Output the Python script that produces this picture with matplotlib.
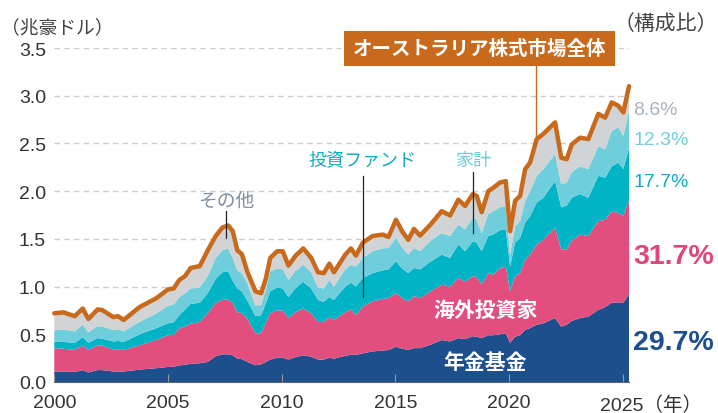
import matplotlib.pyplot as plt
from matplotlib.patches import Rectangle
import numpy as np

# 四半期ごとの保有額（兆豪ドル）をグラフから読み取り
years = [2000.0, 2000.4, 2000.9, 2001.25, 2001.5, 2001.9, 2002.1, 2002.6, 2002.8, 2003.05,
         2003.75, 2004.5, 2005.0, 2005.25, 2005.5, 2005.75, 2006.0, 2006.4, 2006.75, 2007.1,
         2007.4, 2007.65, 2007.85, 2008.05, 2008.25, 2008.5, 2008.85, 2009.1, 2009.3, 2009.5,
         2009.8, 2010.05, 2010.3, 2010.6, 2010.95, 2011.3, 2011.6, 2011.85, 2012.1, 2012.3,
         2012.8, 2013.05, 2013.27, 2013.57, 2014.0, 2014.45, 2014.7, 2015.03, 2015.3, 2015.57,
         2015.82, 2016.09, 2016.55, 2017.04, 2017.41, 2017.77, 2018.07, 2018.41, 2018.58, 2018.8,
         2019.09, 2019.31, 2019.6, 2019.86, 2020.05, 2020.27, 2020.49, 2020.71, 2020.93, 2021.22,
         2021.51, 2022.03, 2022.3, 2022.54, 2022.76, 2023.13, 2023.49, 2023.93, 2024.23, 2024.52,
         2024.81, 2025.03, 2025.28]

pension = [0.11, 0.11, 0.105, 0.125, 0.10, 0.125, 0.125, 0.11, 0.11, 0.11,
           0.13, 0.145, 0.158, 0.16, 0.175, 0.18, 0.19, 0.197, 0.21, 0.27,
           0.29, 0.29, 0.28, 0.245, 0.24, 0.21, 0.175, 0.186, 0.21, 0.235,
           0.255, 0.255, 0.235, 0.26, 0.28, 0.265, 0.235, 0.235, 0.255, 0.245,
           0.275, 0.285, 0.285, 0.30, 0.32, 0.33, 0.335, 0.37, 0.35, 0.335,
           0.355, 0.355, 0.39, 0.44, 0.425, 0.46, 0.45, 0.48, 0.475, 0.46,
           0.49, 0.49, 0.50, 0.51, 0.41, 0.475, 0.49, 0.545, 0.565, 0.60,
           0.615, 0.67, 0.58, 0.60, 0.64, 0.67, 0.685, 0.755, 0.785, 0.83,
           0.835, 0.83, 0.92]

foreign = [0.24, 0.24, 0.23, 0.255, 0.235, 0.26, 0.255, 0.23, 0.235, 0.225,
           0.255, 0.295, 0.332, 0.335, 0.385, 0.40, 0.42, 0.433, 0.51, 0.56,
           0.57, 0.575, 0.55, 0.485, 0.48, 0.45, 0.335, 0.325, 0.41, 0.485,
           0.495, 0.495, 0.435, 0.47, 0.49, 0.455, 0.395, 0.395, 0.425, 0.405,
           0.455, 0.475, 0.415, 0.49, 0.525, 0.54, 0.545, 0.56, 0.53, 0.51,
           0.545, 0.525, 0.56, 0.58, 0.575, 0.63, 0.60, 0.63, 0.625, 0.56,
           0.65, 0.635, 0.69, 0.70, 0.54, 0.635, 0.65, 0.735, 0.77, 0.84,
           0.875, 0.945, 0.81, 0.79, 0.84, 0.875, 0.845, 0.93, 0.915, 0.96,
           0.935, 0.91, 0.98]

funds = [0.07, 0.07, 0.075, 0.09, 0.075, 0.075, 0.075, 0.085, 0.085, 0.085,
         0.115, 0.125, 0.125, 0.13, 0.14, 0.18, 0.21, 0.20, 0.21, 0.25,
         0.29, 0.295, 0.23, 0.25, 0.23, 0.19, 0.18, 0.19, 0.20, 0.23,
         0.24, 0.23, 0.22, 0.25, 0.28, 0.26, 0.23, 0.21, 0.21, 0.21,
         0.27, 0.28, 0.30, 0.30, 0.295, 0.30, 0.30, 0.335, 0.31, 0.295,
         0.295, 0.30, 0.31, 0.315, 0.30, 0.35, 0.32, 0.365, 0.36, 0.35,
         0.39, 0.42, 0.40, 0.39, 0.26, 0.35, 0.37, 0.39, 0.405, 0.44,
         0.44, 0.49, 0.44, 0.46, 0.45, 0.425, 0.40, 0.475, 0.44, 0.47,
         0.53, 0.49, 0.55]

households = [0.12, 0.13, 0.12, 0.13, 0.11, 0.125, 0.125, 0.12, 0.125, 0.11,
              0.13, 0.155, 0.185, 0.185, 0.19, 0.17, 0.16, 0.16, 0.18, 0.22,
              0.23, 0.24, 0.24, 0.19, 0.19, 0.18, 0.11, 0.11, 0.14, 0.21,
              0.20, 0.20, 0.18, 0.18, 0.18, 0.17, 0.13, 0.14, 0.18, 0.14,
              0.18, 0.19, 0.21, 0.21, 0.23, 0.23, 0.225, 0.245, 0.22, 0.195,
              0.21, 0.19, 0.22, 0.225, 0.23, 0.21, 0.23, 0.245, 0.24, 0.19,
              0.23, 0.245, 0.24, 0.245, 0.125, 0.17, 0.175, 0.225, 0.26, 0.28,
              0.30, 0.285, 0.24, 0.24, 0.27, 0.29, 0.30, 0.31, 0.30, 0.37,
              0.37, 0.35, 0.38]

other = [0.18, 0.18, 0.16, 0.17, 0.14, 0.175, 0.175, 0.135, 0.135, 0.12,
         0.155, 0.16, 0.17, 0.17, 0.18, 0.18, 0.215, 0.225, 0.27, 0.23,
         0.24, 0.24, 0.28, 0.21, 0.20, 0.12, 0.15, 0.12, 0.12, 0.14,
         0.18, 0.19, 0.15, 0.16, 0.17, 0.15, 0.16, 0.16, 0.17, 0.15,
         0.155, 0.17, 0.115, 0.16, 0.16, 0.145, 0.115, 0.19, 0.17, 0.155,
         0.20, 0.165, 0.17, 0.23, 0.215, 0.26, 0.245, 0.25, 0.25, 0.22,
         0.24, 0.245, 0.26, 0.26, 0.245, 0.27, 0.265, 0.335, 0.30, 0.385,
         0.37, 0.33, 0.28, 0.245, 0.29, 0.30, 0.315, 0.34, 0.33, 0.30,
         0.225, 0.245, 0.27]

shares = ['29.7%', '31.7%', '17.7%', '12.3%', '8.6%']
xticks = [2000, 2005, 2010, 2015, 2020, 2025]

c_pension = '#1c4f8c'
c_foreign = '#e24e7e'
c_funds = '#00b3c5'
c_house = '#6fcedb'
c_other = '#d1d3d5'
c_total = '#c8691c'

plt.rcParams['font.family'] = ['Liberation Sans', 'Noto Sans CJK JP']
jp = ['Noto Sans CJK JP', 'Liberation Sans']

fig = plt.figure(figsize=(7.18, 4.14), dpi=100)
ax = fig.add_axes([54.3 / 718, 1 - 383 / 414, (629 - 54.3) / 718, (383 - 49) / 414])

for y in np.arange(0.5, 3.6, 0.5):
    ax.axhline(y, color='#cccccc', lw=1, ls=(0, (4, 3)), zorder=0)

ax.stackplot(years, pension, foreign, funds, households, other,
             colors=[c_pension, c_foreign, c_funds, c_house, c_other],
             linewidth=0, zorder=1)
total = np.sum([pension, foreign, funds, households, other], axis=0)
ax.plot(years, total, color=c_total, lw=3.2, solid_joinstyle='round',
        solid_capstyle='round', zorder=3, clip_on=False)

ax.set_xlim(2000, 2025.28)
ax.set_ylim(0, 3.5)
ax.set_yticks(np.arange(0, 3.6, 0.5))
ax.set_yticklabels([f'{v:.1f}' for v in np.arange(0, 3.6, 0.5)])
ax.set_xticks(xticks)
# 最後の目盛りは「（年）」と続けて書く
ax.set_xticklabels([str(t) for t in xticks[:-1]] + [''])
ax.tick_params(axis='y', length=0, pad=6, labelsize=14, labelcolor='#333333')
ax.tick_params(axis='x', direction='in', length=6, color='#999999', pad=9,
               labelsize=14, labelcolor='#333333')
ax.spines[['top', 'right', 'left']].set_visible(False)
ax.spines['bottom'].set_color('#666666')

# 注釈
ax.text(2007.56, 1.90, 'その他', ha='center', va='center', fontsize=13.5,
        color='#7f919e', family=jp)
ax.plot([2007.56, 2007.56], [1.79, 1.51], color='#222222', lw=0.9, zorder=4)
ax.text(2013.56, 2.32, '投資ファンド', ha='center', va='center', fontsize=13,
        color='#14a9bf', family=jp)
ax.plot([2013.56, 2013.56], [2.16, 0.89], color='#222222', lw=0.9, zorder=4)
ax.text(2018.42, 2.33, '家計', ha='center', va='center', fontsize=13,
        color='#6fcedb', family=jp)
ax.plot([2018.42, 2018.42], [2.20, 1.56], color='#222222', lw=0.9, zorder=4)

ax.text(2018.97, 0.757, '海外投資家', ha='center', va='center', fontsize=15,
        color='white', fontweight='bold', family=jp, zorder=5)
ax.text(2018.95, 0.21, '年金基金', ha='center', va='center', fontsize=15,
        color='white', fontweight='bold', family=jp, zorder=5)

# タイトルボックス
fig.patches.append(Rectangle((344 / 718, 1 - 67 / 414), 271 / 718, 35 / 414,
                             transform=fig.transFigure, facecolor=c_total,
                             edgecolor='none', zorder=5))
fig.text(479.5 / 718, 1 - 49.5 / 414, 'オーストラリア株式市場全体', ha='center',
         va='center', fontsize=14, color='white', fontweight='bold', family=jp, zorder=6)
ax.plot([2021.19, 2021.19], [3.31, 2.52], color=c_total, lw=1, zorder=4, clip_on=False)

# 構成比
pct_y = [0.424, 1.318, 2.096, 2.545, 2.86]
pct_c = [c_pension, '#e0457b', '#14a9bf', '#6fcedb', '#a3b3bf']
for s, y, c in zip(shares, pct_y, pct_c):
    big = s in ('29.7%', '31.7%')
    ax.text(2025.46, y, s, ha='left', va='center', color=c, clip_on=False,
            fontsize=20.5 if big else 14, fontweight='bold' if big else 'normal')

fig.text(0.5 / 718, 1 - 28 / 414, '（兆豪ドル）', ha='left', va='center', fontsize=13.5,
         color='#444444', family=jp)
fig.text(614 / 718, 1 - 24 / 414, '（構成比）', ha='left', va='center', fontsize=15,
         color='#444444', family=jp)
fig.text(600 / 718, 1 - 406 / 414, f'{xticks[-1]}（年）', ha='left', va='center',
         fontsize=14, color='#333333')

fig.savefig('out.png', dpi=100)
